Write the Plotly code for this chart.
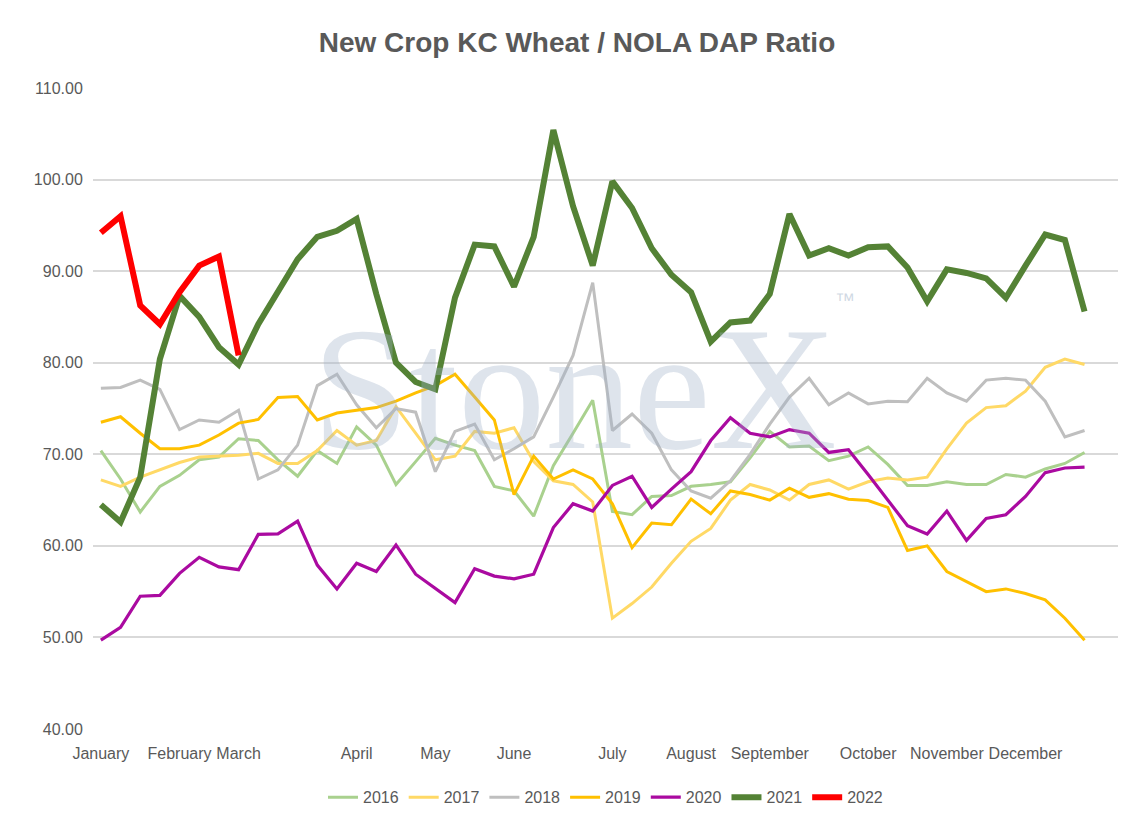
import plotly.graph_objects as go

months = ["January","February","March","April","May","June","July","August","September","October","November","December"]
month_pos = [0,4,7,13,17,21,26,30,34,39,43,47]

s2016 = [70.4,67.3,63.7,66.5,67.7,69.4,69.7,71.7,71.5,69.4,67.6,70.4,69.0,73.0,71.0,66.7,69.2,71.75,71.0,70.4,66.5,66.0,63.25,68.75,72.3,75.9,63.75,63.4,65.4,65.5,66.5,66.7,67.0,69.6,72.5,70.8,70.9,69.3,69.8,70.8,68.9,66.6,66.6,67.0,66.7,66.7,67.8,67.5,68.4,69.0,70.2]
s2017 = [67.2,66.5,67.5,68.3,69.1,69.7,69.8,69.9,70.1,69.0,69.0,70.4,72.6,71.0,71.5,75.2,72.3,69.4,69.8,72.5,72.3,72.9,69.2,67.1,66.7,64.8,52.1,53.7,55.5,58.1,60.5,61.9,65.0,66.7,66.1,65.0,66.7,67.2,66.2,67.0,67.4,67.2,67.5,70.6,73.4,75.1,75.3,76.9,79.5,80.4,79.8]
s2018 = [77.2,77.3,78.1,77.1,72.7,73.75,73.5,74.8,67.3,68.3,71.0,77.5,78.75,75.4,72.9,75.0,74.6,68.1,72.5,73.3,69.4,70.6,71.9,76.25,80.8,88.75,72.6,74.4,72.3,68.3,66.0,65.2,67.1,70.0,73.3,76.25,78.3,75.4,76.7,75.5,75.8,75.75,78.3,76.7,75.8,78.1,78.3,78.1,75.8,71.9,72.6]
s2019 = [73.5,74.1,72.3,70.6,70.6,71.0,72.1,73.4,73.8,76.2,76.3,73.75,74.5,74.8,75.1,75.8,76.7,77.5,78.75,76.25,73.75,65.6,69.8,67.3,68.3,67.3,64.6,59.8,62.5,62.3,65.1,63.5,66.0,65.6,65.0,66.3,65.3,65.7,65.1,64.95,64.2,59.5,60.0,57.2,56.1,55.0,55.3,54.8,54.1,52.1,49.7]
s2020 = [49.7,51.1,54.5,54.6,57.0,58.75,57.7,57.4,61.25,61.3,62.7,57.9,55.3,58.1,57.2,60.1,56.9,55.4,53.8,57.5,56.7,56.4,56.9,62.0,64.6,63.8,66.6,67.6,64.2,66.2,68.1,71.5,74.0,72.3,71.9,72.7,72.3,70.2,70.5,67.8,65.0,62.2,61.3,63.8,60.6,63.0,63.4,65.4,68.0,68.5,68.6]
s2021 = [64.5,62.6,67.5,80.4,87.3,85.0,81.7,79.8,84.2,87.7,91.3,93.75,94.4,95.7,87.5,80.0,77.9,77.1,87.1,92.9,92.7,88.3,93.75,105.4,97.1,90.6,99.8,96.9,92.5,89.6,87.7,82.3,84.4,84.6,87.5,96.25,91.7,92.5,91.7,92.6,92.7,90.4,86.7,90.2,89.8,89.2,87.1,90.6,94.0,93.4,85.6]
s2022 = [94.2,96.0,86.25,84.2,87.7,90.6,91.6,80.8]

series = [
    ("2016", s2016, "#A9D18E", 3),
    ("2017", s2017, "#FFD966", 3),
    ("2018", s2018, "#BFBFBF", 3),
    ("2019", s2019, "#FFC000", 3),
    ("2020", s2020, "#AA0AA0", 3.2),
    ("2021", s2021, "#548235", 6),
    ("2022", s2022, "#FF0000", 6),
]

fig = go.Figure()
fig.add_annotation(x=0.47, y=0.53, xref="paper", yref="paper", text="StoneX", showarrow=False,
                   font=dict(family="Liberation Serif", size=175, color="rgba(160,178,200,0.35)"))
fig.add_annotation(x=0.745, y=0.69, xref="paper", yref="paper", text="™", showarrow=False,
                   font=dict(family="Liberation Sans", size=20, color="rgba(160,178,200,0.5)"))
for name, vals, col, w in series:
    fig.add_trace(go.Scatter(x=list(range(len(vals))), y=vals, mode="lines", name=name,
                             line=dict(color=col, width=w)))

fig.update_layout(
    width=1138, height=826,
    paper_bgcolor="white", plot_bgcolor="white",
    margin=dict(l=85, r=28, t=80, b=105),
    title=dict(text="<b>New Crop KC Wheat / NOLA DAP Ratio</b>", x=0.5, xanchor="center", y=0.97,
               font=dict(family="Liberation Sans", size=28, color="#595959")),
    font=dict(family="Liberation Sans", size=16, color="#595959"),
    xaxis=dict(range=[-0.4, 51.7], tickmode="array", tickvals=month_pos, ticktext=months,
               showgrid=False, zeroline=False, showline=False, ticks="outside", ticklen=10,
               tickcolor="rgba(0,0,0,0)", tickfont=dict(size=16)),
    yaxis=dict(range=[40, 110], dtick=10, tickformat=".2f", showgrid=True, gridcolor="#D9D9D9",
               gridwidth=1.5, zeroline=False, showline=False, ticks="outside", ticklen=6,
               tickcolor="rgba(0,0,0,0)", tickfont=dict(size=16)),
    legend=dict(orientation="h", x=0.5, xanchor="center", y=-0.08, yanchor="top",
                font=dict(size=16, color="#595959")),
)
fig.write_html("out.html")
